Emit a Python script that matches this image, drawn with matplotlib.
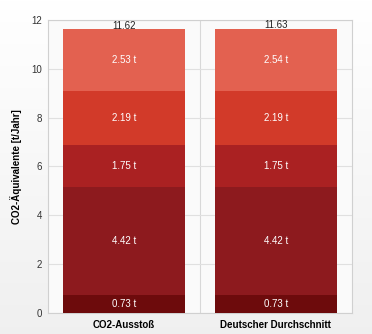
import matplotlib

matplotlib.use("Agg")
import matplotlib.pyplot as plt
import numpy as np

plt.rcParams["font.family"] = ["Liberation Sans", "DejaVu Sans"]

# Stacked CO2 footprint per category (t/Jahr), bottom to top
categories = ["CO2-Ausstoß", "Deutscher Durchschnitt"]
seg1 = [0.73, 0.73]
seg2 = [4.42, 4.42]
seg3 = [1.75, 1.75]
seg4 = [2.19, 2.19]
seg5 = [2.53, 2.54]
totals = ["11.62", "11.63"]
yticks = [0, 2, 4, 6, 8, 10, 12]

segments = [seg1, seg2, seg3, seg4, seg5]
colors = ["#6d0b0c", "#8d1a1e", "#aa2122", "#d23a29", "#e36150"]

fig = plt.figure(figsize=(3.72, 3.34), dpi=100)
fig.patch.set_facecolor("white")

# soft gradient background behind the chart
bg = fig.add_axes([0, 0, 1, 1], zorder=-1)
grad = np.linspace(1.0, 0.94, 256).reshape(-1, 1)
bg.imshow(np.dstack([grad, grad, grad]), aspect="auto", extent=[0, 1, 0, 1])
bg.axis("off")

ax = fig.add_axes([0.129, 0.063, 0.817, 0.877])
ax.set_facecolor("#fafafa")

x = np.arange(len(categories))
bottom = np.zeros(len(categories))
for vals, col in zip(segments, colors):
    vals = np.array(vals)
    ax.bar(x, vals, width=0.8, bottom=bottom, color=col, zorder=3)
    for xi, b, v in zip(x, bottom, vals):
        ax.text(xi, b + v / 2, f"{v:.2f} t", ha="center", va="center",
                color="white", fontsize=7, zorder=4)
    bottom += vals

for xi, tot, lbl in zip(x, bottom, totals):
    ax.text(xi, tot - 0.05, lbl, ha="center", va="bottom",
            color="#222222", fontsize=7, zorder=4)

ax.set_xlim(-0.5, 1.5)
ax.set_ylim(0, 12)
ax.set_yticks(yticks)
ax.set_xticks(x)
ax.set_xticklabels(categories, fontsize=7, fontweight="bold")
ax.tick_params(axis="y", labelsize=7, colors="#333333", length=0, pad=4)
ax.tick_params(axis="x", length=0, pad=5)
ax.axvline(0.5, color="#d8d8d8", lw=0.8, zorder=1)
ax.grid(axis="y", color="#e0e0e0", lw=0.8, zorder=0)
for s in ax.spines.values():
    s.set_color("#d0d0d0")
    s.set_linewidth(0.8)

ax.set_ylabel("CO2-Äquivalente [t/Jahr]", fontsize=7, fontweight="bold", labelpad=7)

fig.savefig("out.png", dpi=100)
